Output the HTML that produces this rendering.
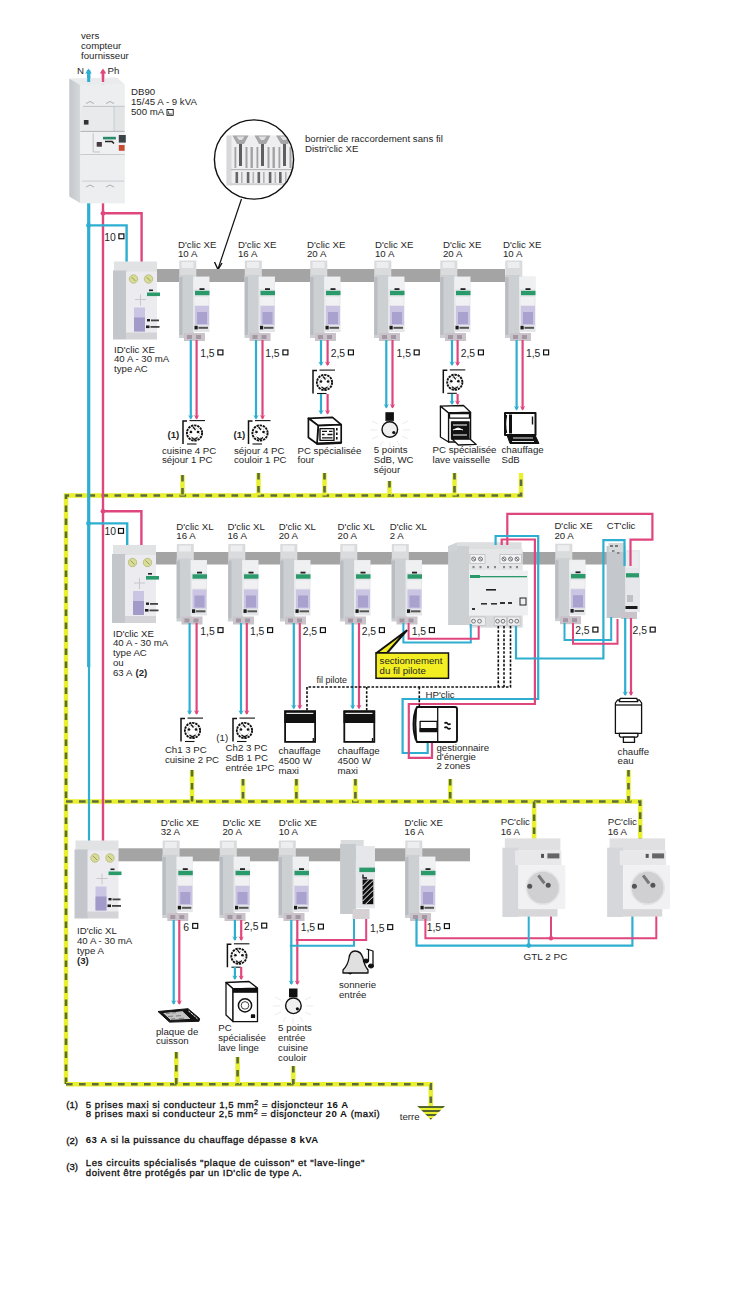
<!DOCTYPE html>
<html><head><meta charset="utf-8"><title>Schema</title>
<style>html,body{margin:0;padding:0;background:#fff;overflow:hidden}svg{display:block}text{font-family:"Liberation Sans",sans-serif}</style>
</head><body>
<svg width="738" height="1289" viewBox="0 0 738 1289">
<rect width="738" height="1289" fill="#ffffff"/>
<path d="M66,1084 L66,495.5 L521,495.5 L521,473" fill="none" stroke="#e8f030" stroke-width="4.5" stroke-linejoin="miter"/>
<path d="M66,1084 L66,495.5 L521,495.5 L521,473" fill="none" stroke="#5c6d3c" stroke-width="2.61" stroke-dasharray="6.6 6.4" stroke-linejoin="miter"/>
<path d="M182.5,475 L182.5,495.5" fill="none" stroke="#e8f030" stroke-width="4.5" stroke-linejoin="miter"/>
<path d="M182.5,475 L182.5,495.5" fill="none" stroke="#5c6d3c" stroke-width="2.61" stroke-dasharray="6.6 6.4" stroke-linejoin="miter"/>
<path d="M258.5,473 L258.5,495.5" fill="none" stroke="#e8f030" stroke-width="4.5" stroke-linejoin="miter"/>
<path d="M258.5,473 L258.5,495.5" fill="none" stroke="#5c6d3c" stroke-width="2.61" stroke-dasharray="6.6 6.4" stroke-linejoin="miter"/>
<path d="M324.5,473 L324.5,495.5" fill="none" stroke="#e8f030" stroke-width="4.5" stroke-linejoin="miter"/>
<path d="M324.5,473 L324.5,495.5" fill="none" stroke="#5c6d3c" stroke-width="2.61" stroke-dasharray="6.6 6.4" stroke-linejoin="miter"/>
<path d="M389.5,481 L389.5,495.5" fill="none" stroke="#e8f030" stroke-width="4.5" stroke-linejoin="miter"/>
<path d="M389.5,481 L389.5,495.5" fill="none" stroke="#5c6d3c" stroke-width="2.61" stroke-dasharray="6.6 6.4" stroke-linejoin="miter"/>
<path d="M454.5,473 L454.5,495.5" fill="none" stroke="#e8f030" stroke-width="4.5" stroke-linejoin="miter"/>
<path d="M454.5,473 L454.5,495.5" fill="none" stroke="#5c6d3c" stroke-width="2.61" stroke-dasharray="6.6 6.4" stroke-linejoin="miter"/>
<path d="M66,801.5 L640.2,801.5 L640.2,845" fill="none" stroke="#e8f030" stroke-width="4.5" stroke-linejoin="miter"/>
<path d="M66,801.5 L640.2,801.5 L640.2,845" fill="none" stroke="#5c6d3c" stroke-width="2.61" stroke-dasharray="6.6 6.4" stroke-linejoin="miter"/>
<path d="M192,770 L192,801.5" fill="none" stroke="#e8f030" stroke-width="4.5" stroke-linejoin="miter"/>
<path d="M192,770 L192,801.5" fill="none" stroke="#5c6d3c" stroke-width="2.61" stroke-dasharray="6.6 6.4" stroke-linejoin="miter"/>
<path d="M243,779 L243,801.5" fill="none" stroke="#e8f030" stroke-width="4.5" stroke-linejoin="miter"/>
<path d="M243,779 L243,801.5" fill="none" stroke="#5c6d3c" stroke-width="2.61" stroke-dasharray="6.6 6.4" stroke-linejoin="miter"/>
<path d="M296.4,779 L296.4,801.5" fill="none" stroke="#e8f030" stroke-width="4.5" stroke-linejoin="miter"/>
<path d="M296.4,779 L296.4,801.5" fill="none" stroke="#5c6d3c" stroke-width="2.61" stroke-dasharray="6.6 6.4" stroke-linejoin="miter"/>
<path d="M355.4,779 L355.4,801.5" fill="none" stroke="#e8f030" stroke-width="4.5" stroke-linejoin="miter"/>
<path d="M355.4,779 L355.4,801.5" fill="none" stroke="#5c6d3c" stroke-width="2.61" stroke-dasharray="6.6 6.4" stroke-linejoin="miter"/>
<path d="M450.2,779 L450.2,801.5" fill="none" stroke="#e8f030" stroke-width="4.5" stroke-linejoin="miter"/>
<path d="M450.2,779 L450.2,801.5" fill="none" stroke="#5c6d3c" stroke-width="2.61" stroke-dasharray="6.6 6.4" stroke-linejoin="miter"/>
<path d="M628.5,770 L628.5,801.5" fill="none" stroke="#e8f030" stroke-width="4.5" stroke-linejoin="miter"/>
<path d="M628.5,770 L628.5,801.5" fill="none" stroke="#5c6d3c" stroke-width="2.61" stroke-dasharray="6.6 6.4" stroke-linejoin="miter"/>
<path d="M534.1,801.5 L534.1,845" fill="none" stroke="#e8f030" stroke-width="4.5" stroke-linejoin="miter"/>
<path d="M534.1,801.5 L534.1,845" fill="none" stroke="#5c6d3c" stroke-width="2.61" stroke-dasharray="6.6 6.4" stroke-linejoin="miter"/>
<path d="M66,1084.2 L430.8,1084.2 L430.8,1106" fill="none" stroke="#e8f030" stroke-width="4.5" stroke-linejoin="miter"/>
<path d="M66,1084.2 L430.8,1084.2 L430.8,1106" fill="none" stroke="#5c6d3c" stroke-width="2.61" stroke-dasharray="6.6 6.4" stroke-linejoin="miter"/>
<path d="M176.3,1052 L176.3,1084.2" fill="none" stroke="#e8f030" stroke-width="4.5" stroke-linejoin="miter"/>
<path d="M176.3,1052 L176.3,1084.2" fill="none" stroke="#5c6d3c" stroke-width="2.61" stroke-dasharray="6.6 6.4" stroke-linejoin="miter"/>
<path d="M237.6,1057 L237.6,1084.2" fill="none" stroke="#e8f030" stroke-width="4.5" stroke-linejoin="miter"/>
<path d="M237.6,1057 L237.6,1084.2" fill="none" stroke="#5c6d3c" stroke-width="2.61" stroke-dasharray="6.6 6.4" stroke-linejoin="miter"/>
<path d="M293.3,1066 L293.3,1084.2" fill="none" stroke="#e8f030" stroke-width="4.5" stroke-linejoin="miter"/>
<path d="M293.3,1066 L293.3,1084.2" fill="none" stroke="#5c6d3c" stroke-width="2.61" stroke-dasharray="6.6 6.4" stroke-linejoin="miter"/>
<text transform="translate(81,38.5) scale(1.04,1)" font-size="9.3" fill="#262626">vers</text>
<text transform="translate(81,48.6) scale(1.04,1)" font-size="9.3" fill="#262626">compteur</text>
<text transform="translate(81,58.7) scale(1.04,1)" font-size="9.3" fill="#262626">fournisseur</text>
<text transform="translate(77,73.5) scale(1.04,1)" font-size="9.3" fill="#262626">N</text>
<text transform="translate(107.5,73.5) scale(1.04,1)" font-size="9.3" fill="#262626">Ph</text>
<text transform="translate(131,94.5) scale(1.04,1)" font-size="9.3" fill="#262626">DB90</text>
<text transform="translate(131,104.5) scale(1.04,1)" font-size="9.3" fill="#262626">15/45 A - 9 kVA</text>
<text transform="translate(131,114.5) scale(1.04,1)" font-size="9.3" fill="#262626">500 mA</text>
<rect x="167" y="109.5" width="6.2" height="5.8" fill="none" stroke="#111" stroke-width="0.9"/><path d="M168.4,114 h3.5 M168.6,111.3 v2.6" stroke="#111" stroke-width="0.7"/>
<text transform="translate(305,141.5) scale(1.04,1)" font-size="9.3" fill="#262626">bornier de raccordement sans fil</text>
<text transform="translate(305,151.5) scale(1.04,1)" font-size="9.3" fill="#262626">Distri'clic XE</text>
<path d="M88.7,70 L88.7,667" fill="none" stroke="#2eaed0" stroke-width="3.2" stroke-linejoin="miter"/>
<path d="M89,666 L89,843" fill="none" stroke="#2eaed0" stroke-width="2.2" stroke-linejoin="miter"/>
<path d="M103,70 L103,843" fill="none" stroke="#e0467e" stroke-width="2.4" stroke-linejoin="miter"/>
<path d="M85.3,73.5 L88.5,68.5 L91.7,73.5 Z" fill="#2eaed0"/><path d="M99.8,73.5 L103,68.5 L106.2,73.5 Z" fill="#e0467e"/>
<g>
<defs><linearGradient id="dbside" x1="0" x2="1" y1="0" y2="0"><stop offset="0" stop-color="#c3c7cb"/><stop offset="1" stop-color="#d6d9dc"/></linearGradient></defs>
<path d="M69.3,78.6 L117,77.5 L124.6,84.4 L80.4,85 Z" fill="#e9ebed"/>
<path d="M69.3,78.6 L80.4,85 L80.4,203.2 L69.3,196.5 Z" fill="url(#dbside)"/>
<rect x="80.4" y="84.6" width="44.2" height="118.6" fill="#e8eaec"/>
<rect x="80.4" y="84.6" width="44.2" height="21.5" fill="#eceef0"/>
<path d="M83,106.4 H114.2 V131 M114.2,106.4 H124.6" fill="none" stroke="#b4b7ba" stroke-width="0.8"/>
<rect x="114.6" y="106.8" width="10" height="24" fill="#e2e4e6"/>
<rect x="83.9" y="120" width="4.6" height="4.6" fill="#2f3438"/>
<rect x="80.4" y="131.4" width="44.2" height="23.5" fill="#eef0f2"/>
<path d="M80.4,131.4 H124.6 M80.4,154.9 H124.6" stroke="#a9acaf" stroke-width="0.9"/>
<path d="M93.2,133 V152 H100" fill="none" stroke="#b0b3b6" stroke-width="0.7"/>
<rect x="103" y="136.8" width="12.9" height="2.6" fill="#2a8a6a"/>
<path d="M105,141.5 H112 L114,143.5" fill="none" stroke="#222" stroke-width="1.6"/>
<rect x="118.8" y="135" width="7" height="7.6" fill="#3a4448"/>
<rect x="118.8" y="145" width="5.8" height="5.8" fill="#c84a30"/>
<rect x="96.7" y="142" width="5.2" height="4.7" fill="#4a3a46"/>
<rect x="80.4" y="155" width="44.2" height="48.2" fill="#eceef0"/>
<path d="M82,181.1 H124" stroke="#c2c5c8" stroke-width="0.8"/>
<path d="M86,103.5 l4,-2 l4,2 M106,103.5 l4,-2 l4,2 M86,187 l4,-2 l4,2 M106,187 l4,-2 l4,2" fill="none" stroke="#9a9ea2" stroke-width="0.8"/>
</g>
<path d="M88.7,72 L88.7,82" fill="none" stroke="#2eaed0" stroke-width="3" stroke-linejoin="miter"/>
<path d="M103,72 L103,82" fill="none" stroke="#e0467e" stroke-width="2.4" stroke-linejoin="miter"/>
<g>
<clipPath id="clipc"><circle cx="254" cy="159.5" r="39"/></clipPath>
<circle cx="254" cy="159.5" r="39.6" fill="#ffffff"/>
<g clip-path="url(#clipc)">
<rect x="226.5" y="135.5" width="70" height="50" fill="#eeeef0"/>
<rect x="226.5" y="135.5" width="5" height="50" fill="#d8d8da"/>
<path d="M232.5,135.5 H248.5 L244,144 H237 Z M254.5,135.5 H270.5 L266,144 H259 Z M276,135.5 H292 L288,144 H281 Z" fill="#a6a6a8"/>
<path d="M236.5,136.5 H244.5 L242,140 H239 Z M258.5,136.5 H266.5 L264,140 H261 Z M280,136.5 H288 L286,140 H283 Z" fill="#e0e0e2"/>
<g fill="#5e5e60"><rect x="239" y="144" width="3" height="22"/><rect x="261" y="144" width="3" height="22"/><rect x="283" y="144" width="3" height="22"/></g>
<g fill="#a2a2a4"><rect x="234.5" y="147" width="1.8" height="21"/><rect x="245.5" y="147" width="2" height="21"/><rect x="250.5" y="147" width="2.4" height="21"/><rect x="256.5" y="147" width="1.8" height="21"/><rect x="267.5" y="147" width="2" height="21"/><rect x="272.5" y="147" width="2.4" height="21"/><rect x="278.5" y="147" width="1.8" height="21"/><rect x="289.5" y="147" width="2" height="21"/></g>
<rect x="231" y="169" width="66" height="1.2" fill="#b8b8ba"/>
<g fill="#66666a"><rect x="235.5" y="172" width="2.6" height="11"/><rect x="246.8" y="172" width="2.6" height="11"/><rect x="257.5" y="172" width="2.6" height="11"/><rect x="268.8" y="172" width="2.6" height="11"/><rect x="279" y="172" width="2.6" height="11"/><rect x="290" y="172" width="2.6" height="11"/></g>
<g fill="#b4b4b6"><rect x="241" y="172" width="1.6" height="11"/><rect x="252.5" y="172" width="1.6" height="11"/><rect x="263" y="172" width="1.6" height="11"/><rect x="274.5" y="172" width="1.6" height="11"/><rect x="285" y="172" width="1.6" height="11"/></g>
<rect x="231" y="183.5" width="66" height="1.2" fill="#c4c4c6"/>
</g>
<circle cx="254" cy="159.5" r="39.6" fill="none" stroke="#111" stroke-width="1.4"/>
</g>
<path d="M241.5,199 L218,269" stroke="#111" stroke-width="1.2" fill="none"/>
<path d="M214.5,262 L218,269.5 L222,263" stroke="#111" stroke-width="1.4" fill="none"/>
<rect x="157" y="269" width="348" height="13" fill="#a4a4a4"/>
<circle cx="103" cy="213.3" r="2.4" fill="#e0467e"/>
<path d="M103,213.3 L141.6,213.3 L141.6,266" fill="none" stroke="#e0467e" stroke-width="2.4" stroke-linejoin="miter"/>
<circle cx="88.5" cy="225.4" r="2.4" fill="#2eaed0"/>
<path d="M88.5,225.4 L126.6,225.4 L126.6,266" fill="none" stroke="#2eaed0" stroke-width="2.4" stroke-linejoin="miter"/>
<text transform="translate(104.2,240.7) scale(1.0,1)" font-size="10.4" fill="#262626">10</text>
<rect x="118.89999999999999" y="233.9" width="5" height="4.8" fill="none" stroke="#111" stroke-width="1.2"/>
<g transform="translate(113,261.5)">
 <rect x="1" y="0" width="43" height="11" fill="#e0e2e4"/>
 <rect x="0" y="9" width="13.5" height="69" fill="#c3c7cb"/>
 <rect x="13" y="10" width="31" height="62" fill="#ececf0"/>
 <circle cx="20.5" cy="17.5" r="4.2" fill="#d8dc96" stroke="#b4b878" stroke-width="0.8"/>
 <circle cx="35.5" cy="17.5" r="4.2" fill="#d8dc96" stroke="#b4b878" stroke-width="0.8"/>
 <path d="M18.5,15.5 l4,4 M33.5,15.5 l4,4" stroke="#9a9e60" stroke-width="1"/>
 <rect x="34" y="31" width="13" height="3.6" fill="#2a9a6a"/>
 <rect x="36" y="28" width="4" height="1.6" fill="#222"/>
 <rect x="21" y="46" width="11" height="24" fill="#cac5e2"/>
 <rect x="21" y="56" width="11" height="14" fill="#a29ac8"/>
 <rect x="34" y="57.5" width="3" height="2.4" fill="#1a1a1a"/><rect x="38" y="58" width="8" height="1.8" fill="#444"/>
 <rect x="33" y="64" width="3.5" height="2.6" fill="#1a1a1a"/><rect x="37.5" y="64.5" width="9" height="1.8" fill="#444"/>
 <path d="M22,38 H33 M27.5,33 V44" stroke="#c8c8cc" stroke-width="1"/>
 <rect x="13" y="71" width="31" height="7" fill="#d4d4d8"/>
</g>
<text transform="translate(114,352.5) scale(1.04,1)" font-size="9.3" fill="#262626">ID'clic XE</text>
<text transform="translate(114,362.3) scale(1.04,1)" font-size="9.3" fill="#262626">40 A - 30 mA</text>
<text transform="translate(114,372.1) scale(1.04,1)" font-size="9.3" fill="#262626">type AC</text>
<text transform="translate(178,248.0) scale(1.04,1)" font-size="9.3" fill="#262626">D'clic XE</text>
<text transform="translate(178,257.4) scale(1.04,1)" font-size="9.3" fill="#262626">10 A</text>
<text transform="translate(238,248.0) scale(1.04,1)" font-size="9.3" fill="#262626">D'clic XE</text>
<text transform="translate(238,257.4) scale(1.04,1)" font-size="9.3" fill="#262626">16 A</text>
<text transform="translate(307,248.0) scale(1.04,1)" font-size="9.3" fill="#262626">D'clic XE</text>
<text transform="translate(307,257.4) scale(1.04,1)" font-size="9.3" fill="#262626">20 A</text>
<text transform="translate(375,248.0) scale(1.04,1)" font-size="9.3" fill="#262626">D'clic XE</text>
<text transform="translate(375,257.4) scale(1.04,1)" font-size="9.3" fill="#262626">10 A</text>
<text transform="translate(443,248.0) scale(1.04,1)" font-size="9.3" fill="#262626">D'clic XE</text>
<text transform="translate(443,257.4) scale(1.04,1)" font-size="9.3" fill="#262626">20 A</text>
<text transform="translate(503,248.0) scale(1.04,1)" font-size="9.3" fill="#262626">D'clic XE</text>
<text transform="translate(503,257.4) scale(1.04,1)" font-size="9.3" fill="#262626">10 A</text>
<g transform="translate(179,260)">
 <rect x="0.3" y="0.5" width="17" height="17" fill="#d9dbdd"/>
 <rect x="2.5" y="2" width="12" height="6" fill="#eceef0"/>
 <rect x="0" y="15" width="15" height="63" fill="#cdd0d3"/>
 <rect x="0.3" y="17" width="3.2" height="58" fill="#b9bdc1"/>
 <rect x="14" y="16.5" width="16.5" height="55.5" fill="#e5e6e9"/>
 <rect x="14.5" y="17" width="15.5" height="12" fill="#eff0f2"/>
 <rect x="16" y="30.8" width="14.5" height="4.4" fill="#2a9a6a"/>
 <rect x="20.5" y="28.2" width="5" height="1.8" fill="#222"/>
 <rect x="15.5" y="37" width="14" height="8" fill="#f1f1f3"/>
 <rect x="16" y="46" width="14" height="19" fill="#cbc5e3"/>
 <rect x="18" y="52" width="10" height="12" fill="#a9a1ce"/>
 <rect x="15.5" y="65.8" width="3.2" height="3.6" fill="#1a1a1a"/>
 <rect x="19.5" y="66.8" width="9.5" height="2" fill="#555"/>
 <rect x="5" y="73" width="21" height="8" fill="#cac3c9"/>
 <rect x="8" y="75" width="5" height="4" fill="#a397a4"/>
 <rect x="17" y="75" width="5" height="4" fill="#a397a4"/>
</g>
<g transform="translate(244.5,260)">
 <rect x="0.3" y="0.5" width="17" height="17" fill="#d9dbdd"/>
 <rect x="2.5" y="2" width="12" height="6" fill="#eceef0"/>
 <rect x="0" y="15" width="15" height="63" fill="#cdd0d3"/>
 <rect x="0.3" y="17" width="3.2" height="58" fill="#b9bdc1"/>
 <rect x="14" y="16.5" width="16.5" height="55.5" fill="#e5e6e9"/>
 <rect x="14.5" y="17" width="15.5" height="12" fill="#eff0f2"/>
 <rect x="16" y="30.8" width="14.5" height="4.4" fill="#2a9a6a"/>
 <rect x="20.5" y="28.2" width="5" height="1.8" fill="#222"/>
 <rect x="15.5" y="37" width="14" height="8" fill="#f1f1f3"/>
 <rect x="16" y="46" width="14" height="19" fill="#cbc5e3"/>
 <rect x="18" y="52" width="10" height="12" fill="#a9a1ce"/>
 <rect x="15.5" y="65.8" width="3.2" height="3.6" fill="#1a1a1a"/>
 <rect x="19.5" y="66.8" width="9.5" height="2" fill="#555"/>
 <rect x="5" y="73" width="21" height="8" fill="#cac3c9"/>
 <rect x="8" y="75" width="5" height="4" fill="#a397a4"/>
 <rect x="17" y="75" width="5" height="4" fill="#a397a4"/>
</g>
<g transform="translate(310,260)">
 <rect x="0.3" y="0.5" width="17" height="17" fill="#d9dbdd"/>
 <rect x="2.5" y="2" width="12" height="6" fill="#eceef0"/>
 <rect x="0" y="15" width="15" height="63" fill="#cdd0d3"/>
 <rect x="0.3" y="17" width="3.2" height="58" fill="#b9bdc1"/>
 <rect x="14" y="16.5" width="16.5" height="55.5" fill="#e5e6e9"/>
 <rect x="14.5" y="17" width="15.5" height="12" fill="#eff0f2"/>
 <rect x="16" y="30.8" width="14.5" height="4.4" fill="#2a9a6a"/>
 <rect x="20.5" y="28.2" width="5" height="1.8" fill="#222"/>
 <rect x="15.5" y="37" width="14" height="8" fill="#f1f1f3"/>
 <rect x="16" y="46" width="14" height="19" fill="#cbc5e3"/>
 <rect x="18" y="52" width="10" height="12" fill="#a9a1ce"/>
 <rect x="15.5" y="65.8" width="3.2" height="3.6" fill="#1a1a1a"/>
 <rect x="19.5" y="66.8" width="9.5" height="2" fill="#555"/>
 <rect x="5" y="73" width="21" height="8" fill="#cac3c9"/>
 <rect x="8" y="75" width="5" height="4" fill="#a397a4"/>
 <rect x="17" y="75" width="5" height="4" fill="#a397a4"/>
</g>
<g transform="translate(374,260)">
 <rect x="0.3" y="0.5" width="17" height="17" fill="#d9dbdd"/>
 <rect x="2.5" y="2" width="12" height="6" fill="#eceef0"/>
 <rect x="0" y="15" width="15" height="63" fill="#cdd0d3"/>
 <rect x="0.3" y="17" width="3.2" height="58" fill="#b9bdc1"/>
 <rect x="14" y="16.5" width="16.5" height="55.5" fill="#e5e6e9"/>
 <rect x="14.5" y="17" width="15.5" height="12" fill="#eff0f2"/>
 <rect x="16" y="30.8" width="14.5" height="4.4" fill="#2a9a6a"/>
 <rect x="20.5" y="28.2" width="5" height="1.8" fill="#222"/>
 <rect x="15.5" y="37" width="14" height="8" fill="#f1f1f3"/>
 <rect x="16" y="46" width="14" height="19" fill="#cbc5e3"/>
 <rect x="18" y="52" width="10" height="12" fill="#a9a1ce"/>
 <rect x="15.5" y="65.8" width="3.2" height="3.6" fill="#1a1a1a"/>
 <rect x="19.5" y="66.8" width="9.5" height="2" fill="#555"/>
 <rect x="5" y="73" width="21" height="8" fill="#cac3c9"/>
 <rect x="8" y="75" width="5" height="4" fill="#a397a4"/>
 <rect x="17" y="75" width="5" height="4" fill="#a397a4"/>
</g>
<g transform="translate(440,260)">
 <rect x="0.3" y="0.5" width="17" height="17" fill="#d9dbdd"/>
 <rect x="2.5" y="2" width="12" height="6" fill="#eceef0"/>
 <rect x="0" y="15" width="15" height="63" fill="#cdd0d3"/>
 <rect x="0.3" y="17" width="3.2" height="58" fill="#b9bdc1"/>
 <rect x="14" y="16.5" width="16.5" height="55.5" fill="#e5e6e9"/>
 <rect x="14.5" y="17" width="15.5" height="12" fill="#eff0f2"/>
 <rect x="16" y="30.8" width="14.5" height="4.4" fill="#2a9a6a"/>
 <rect x="20.5" y="28.2" width="5" height="1.8" fill="#222"/>
 <rect x="15.5" y="37" width="14" height="8" fill="#f1f1f3"/>
 <rect x="16" y="46" width="14" height="19" fill="#cbc5e3"/>
 <rect x="18" y="52" width="10" height="12" fill="#a9a1ce"/>
 <rect x="15.5" y="65.8" width="3.2" height="3.6" fill="#1a1a1a"/>
 <rect x="19.5" y="66.8" width="9.5" height="2" fill="#555"/>
 <rect x="5" y="73" width="21" height="8" fill="#cac3c9"/>
 <rect x="8" y="75" width="5" height="4" fill="#a397a4"/>
 <rect x="17" y="75" width="5" height="4" fill="#a397a4"/>
</g>
<g transform="translate(505,260)">
 <rect x="0.3" y="0.5" width="17" height="17" fill="#d9dbdd"/>
 <rect x="2.5" y="2" width="12" height="6" fill="#eceef0"/>
 <rect x="0" y="15" width="15" height="63" fill="#cdd0d3"/>
 <rect x="0.3" y="17" width="3.2" height="58" fill="#b9bdc1"/>
 <rect x="14" y="16.5" width="16.5" height="55.5" fill="#e5e6e9"/>
 <rect x="14.5" y="17" width="15.5" height="12" fill="#eff0f2"/>
 <rect x="16" y="30.8" width="14.5" height="4.4" fill="#2a9a6a"/>
 <rect x="20.5" y="28.2" width="5" height="1.8" fill="#222"/>
 <rect x="15.5" y="37" width="14" height="8" fill="#f1f1f3"/>
 <rect x="16" y="46" width="14" height="19" fill="#cbc5e3"/>
 <rect x="18" y="52" width="10" height="12" fill="#a9a1ce"/>
 <rect x="15.5" y="65.8" width="3.2" height="3.6" fill="#1a1a1a"/>
 <rect x="19.5" y="66.8" width="9.5" height="2" fill="#555"/>
 <rect x="5" y="73" width="21" height="8" fill="#cac3c9"/>
 <rect x="8" y="75" width="5" height="4" fill="#a397a4"/>
 <rect x="17" y="75" width="5" height="4" fill="#a397a4"/>
</g>
<text transform="translate(200.2,356.8) scale(1.0,1)" font-size="10.4" fill="#262626">1,5</text>
<rect x="217.9" y="350.00000000000006" width="5" height="4.8" fill="none" stroke="#111" stroke-width="1.2"/>
<text transform="translate(265.2,356.8) scale(1.0,1)" font-size="10.4" fill="#262626">1,5</text>
<rect x="282.90000000000003" y="350.00000000000006" width="5" height="4.8" fill="none" stroke="#111" stroke-width="1.2"/>
<text transform="translate(330.7,356.8) scale(1.0,1)" font-size="10.4" fill="#262626">2,5</text>
<rect x="348.40000000000003" y="350.00000000000006" width="5" height="4.8" fill="none" stroke="#111" stroke-width="1.2"/>
<text transform="translate(396.5,356.8) scale(1.0,1)" font-size="10.4" fill="#262626">1,5</text>
<rect x="414.20000000000005" y="350.00000000000006" width="5" height="4.8" fill="none" stroke="#111" stroke-width="1.2"/>
<text transform="translate(460.7,356.8) scale(1.0,1)" font-size="10.4" fill="#262626">2,5</text>
<rect x="478.40000000000003" y="350.00000000000006" width="5" height="4.8" fill="none" stroke="#111" stroke-width="1.2"/>
<text transform="translate(525.9000000000001,356.8) scale(1.0,1)" font-size="10.4" fill="#262626">1,5</text>
<rect x="543.6" y="350.00000000000006" width="5" height="4.8" fill="none" stroke="#111" stroke-width="1.2"/>
<path d="M190.8,340 L190.8,418.5" fill="none" stroke="#2eaed0" stroke-width="2.2" stroke-linejoin="miter"/>
<path d="M196.6,340 L196.6,418.5" fill="none" stroke="#e0467e" stroke-width="2.2" stroke-linejoin="miter"/>
<path d="M188.10000000000002,414.9 L190.8,419.5 L193.5,414.9 L190.8,416.5 Z" fill="#2eaed0"/>
<path d="M193.9,414.9 L196.6,419.5 L199.29999999999998,414.9 L196.6,416.5 Z" fill="#e0467e"/>
<g transform="translate(182,420)">
 <path d="M1,24 V1 H5" fill="none" stroke="#111" stroke-width="1.5"/>
 <path d="M7.5,0.6 H23" fill="none" stroke="#111" stroke-width="1.1"/>
 <path d="M5,24 H14.5" fill="none" stroke="#111" stroke-width="1.1"/>
 <circle cx="12.5" cy="13" r="7.6" fill="#fff" stroke="#111" stroke-width="1.9" stroke-dasharray="2.4 0.8"/>
 <circle cx="12.5" cy="13" r="5" fill="none" stroke="#666" stroke-width="0.6" stroke-dasharray="1 1.2"/>
 <circle cx="9" cy="12" r="1.3" fill="#111"/><circle cx="16" cy="12" r="1.3" fill="#111"/>
 <path d="M9.5,17.5 L12.5,19.5 L15.5,17.5" fill="none" stroke="#111" stroke-width="1.3"/>
 <path d="M11,7 L13.5,10" fill="none" stroke="#111" stroke-width="1.2"/>
</g>
<text transform="translate(167.5,437.5) scale(1.04,1)" font-size="9.3" font-weight="bold" fill="#262626">(1)</text>
<text transform="translate(162,454.0) scale(1.04,1)" font-size="9.3" fill="#262626">cuisine 4 PC</text>
<text transform="translate(162,463.3) scale(1.04,1)" font-size="9.3" fill="#262626">séjour 1 PC</text>
<path d="M256,340 L256,418.5" fill="none" stroke="#2eaed0" stroke-width="2.2" stroke-linejoin="miter"/>
<path d="M262.5,340 L262.5,418.5" fill="none" stroke="#e0467e" stroke-width="2.2" stroke-linejoin="miter"/>
<path d="M253.3,414.9 L256,419.5 L258.7,414.9 L256,416.5 Z" fill="#2eaed0"/>
<path d="M259.8,414.9 L262.5,419.5 L265.2,414.9 L262.5,416.5 Z" fill="#e0467e"/>
<g transform="translate(247.5,420)">
 <path d="M1,24 V1 H5" fill="none" stroke="#111" stroke-width="1.5"/>
 <path d="M7.5,0.6 H23" fill="none" stroke="#111" stroke-width="1.1"/>
 <path d="M5,24 H14.5" fill="none" stroke="#111" stroke-width="1.1"/>
 <circle cx="12.5" cy="13" r="7.6" fill="#fff" stroke="#111" stroke-width="1.9" stroke-dasharray="2.4 0.8"/>
 <circle cx="12.5" cy="13" r="5" fill="none" stroke="#666" stroke-width="0.6" stroke-dasharray="1 1.2"/>
 <circle cx="9" cy="12" r="1.3" fill="#111"/><circle cx="16" cy="12" r="1.3" fill="#111"/>
 <path d="M9.5,17.5 L12.5,19.5 L15.5,17.5" fill="none" stroke="#111" stroke-width="1.3"/>
 <path d="M11,7 L13.5,10" fill="none" stroke="#111" stroke-width="1.2"/>
</g>
<text transform="translate(233.5,437.5) scale(1.04,1)" font-size="9.3" font-weight="bold" fill="#262626">(1)</text>
<text transform="translate(234,454.0) scale(1.04,1)" font-size="9.3" fill="#262626">séjour 4 PC</text>
<text transform="translate(234,463.3) scale(1.04,1)" font-size="9.3" fill="#262626">couloir 1 PC</text>
<path d="M321,340 L321,365" fill="none" stroke="#2eaed0" stroke-width="2.2" stroke-linejoin="miter"/>
<path d="M327.6,340 L327.6,365" fill="none" stroke="#e0467e" stroke-width="2.2" stroke-linejoin="miter"/>
<path d="M318.3,361.4 L321,366 L323.7,361.4 L321,363 Z" fill="#2eaed0"/>
<path d="M324.90000000000003,361.4 L327.6,366 L330.3,361.4 L327.6,363 Z" fill="#e0467e"/>
<g transform="translate(312,369.5)">
 <path d="M1,24 V1 H5" fill="none" stroke="#111" stroke-width="1.5"/>
 <path d="M7.5,0.6 H23" fill="none" stroke="#111" stroke-width="1.1"/>
 <path d="M5,24 H14.5" fill="none" stroke="#111" stroke-width="1.1"/>
 <circle cx="12.5" cy="13" r="7.6" fill="#fff" stroke="#111" stroke-width="1.9" stroke-dasharray="2.4 0.8"/>
 <circle cx="12.5" cy="13" r="5" fill="none" stroke="#666" stroke-width="0.6" stroke-dasharray="1 1.2"/>
 <circle cx="9" cy="12" r="1.3" fill="#111"/><circle cx="16" cy="12" r="1.3" fill="#111"/>
 <path d="M9.5,17.5 L12.5,19.5 L15.5,17.5" fill="none" stroke="#111" stroke-width="1.3"/>
 <path d="M11,7 L13.5,10" fill="none" stroke="#111" stroke-width="1.2"/>
</g>
<path d="M321,394 L321,413.5" fill="none" stroke="#2eaed0" stroke-width="2.2" stroke-linejoin="miter"/>
<path d="M327.6,394 L327.6,413.5" fill="none" stroke="#e0467e" stroke-width="2.2" stroke-linejoin="miter"/>
<path d="M318.3,409.9 L321,414.5 L323.7,409.9 L321,411.5 Z" fill="#2eaed0"/>
<path d="M324.90000000000003,409.9 L327.6,414.5 L330.3,409.9 L327.6,411.5 Z" fill="#e0467e"/>
<g fill="#fff" stroke="#111" stroke-width="1.7" stroke-linejoin="round">
<path d="M308.4,418.3 L332.5,417.3 L341.2,424.6 L318.2,425.6 Z"/>
<path d="M318.2,425.6 L341.2,424.6 L341.2,443 L317,443.8 Z"/>
<path d="M308.4,418.3 L318.2,425.6 L317,443.8 L308.4,437.5 Z"/>
<rect x="320" y="428.6" width="14" height="11.8" fill="#fff" stroke-width="1.4"/>
<path d="M322,431.3 h5 M329,431.3 h3.5 M322,434.5 h2.5 M327.5,434.5 h5 M322,437.8 h10.5" stroke-width="1.3"/>
<path d="M336.8,428 v2.5 M336.8,432.5 v2.5 M336.8,437 v2.5" stroke-width="1.6"/>
<path d="M317,443.6 L341.2,442.8" stroke-width="2.4"/>
</g>
<text transform="translate(297.5,453.5) scale(1.04,1)" font-size="9.3" fill="#262626">PC spécialisée</text>
<text transform="translate(297.5,462.8) scale(1.04,1)" font-size="9.3" fill="#262626">four</text>
<path d="M386.3,340 L386.3,407.5" fill="none" stroke="#2eaed0" stroke-width="2.2" stroke-linejoin="miter"/>
<path d="M392.5,340 L392.5,407.5" fill="none" stroke="#e0467e" stroke-width="2.2" stroke-linejoin="miter"/>
<path d="M383.6,403.9 L386.3,408.5 L389.0,403.9 L386.3,405.5 Z" fill="#2eaed0"/>
<path d="M389.8,403.9 L392.5,408.5 L395.2,403.9 L392.5,405.5 Z" fill="#e0467e"/>
<g>
<g stroke="#dedede" stroke-width="0.6">
<path d="M378,424 l-6,-3 M377,430 l-7,0 M378,436 l-6,3 M383,441 l-3,5 M390,442 v6 M397,441 l3,5 M402,436 l6,3 M403,430 l7,0 M402,424 l6,-3"/>
</g>
<rect x="385.4" y="412.2" width="8.5" height="8.8" fill="#111"/>
<rect x="386" y="420.8" width="7.3" height="1.3" fill="#bbb"/>
<circle cx="389.8" cy="429.5" r="7.8" fill="#f0f0f0" stroke="#111" stroke-width="1.4"/>
<circle cx="393.8" cy="432.5" r="1.6" fill="#111"/>
</g>
<text transform="translate(373.8,453.4) scale(1.04,1)" font-size="9.3" fill="#262626">5 points</text>
<text transform="translate(373.8,463.4) scale(1.04,1)" font-size="9.3" fill="#262626">SdB, WC</text>
<text transform="translate(373.8,473.4) scale(1.04,1)" font-size="9.3" fill="#262626">séjour</text>
<path d="M452,340 L452,365" fill="none" stroke="#2eaed0" stroke-width="2.2" stroke-linejoin="miter"/>
<path d="M457.6,340 L457.6,365" fill="none" stroke="#e0467e" stroke-width="2.2" stroke-linejoin="miter"/>
<path d="M449.3,361.4 L452,366 L454.7,361.4 L452,363 Z" fill="#2eaed0"/>
<path d="M454.90000000000003,361.4 L457.6,366 L460.3,361.4 L457.6,363 Z" fill="#e0467e"/>
<g transform="translate(442.3,369.3)">
 <path d="M1,24 V1 H5" fill="none" stroke="#111" stroke-width="1.5"/>
 <path d="M7.5,0.6 H23" fill="none" stroke="#111" stroke-width="1.1"/>
 <path d="M5,24 H14.5" fill="none" stroke="#111" stroke-width="1.1"/>
 <circle cx="12.5" cy="13" r="7.6" fill="#fff" stroke="#111" stroke-width="1.9" stroke-dasharray="2.4 0.8"/>
 <circle cx="12.5" cy="13" r="5" fill="none" stroke="#666" stroke-width="0.6" stroke-dasharray="1 1.2"/>
 <circle cx="9" cy="12" r="1.3" fill="#111"/><circle cx="16" cy="12" r="1.3" fill="#111"/>
 <path d="M9.5,17.5 L12.5,19.5 L15.5,17.5" fill="none" stroke="#111" stroke-width="1.3"/>
 <path d="M11,7 L13.5,10" fill="none" stroke="#111" stroke-width="1.2"/>
</g>
<path d="M452,394 L452,404" fill="none" stroke="#2eaed0" stroke-width="2.2" stroke-linejoin="miter"/>
<path d="M457.6,394 L457.6,404" fill="none" stroke="#e0467e" stroke-width="2.2" stroke-linejoin="miter"/>
<path d="M449.3,400.4 L452,405 L454.7,400.4 L452,402 Z" fill="#2eaed0"/>
<path d="M454.90000000000003,400.4 L457.6,405 L460.3,400.4 L457.6,402 Z" fill="#e0467e"/>
<g fill="#fff" stroke="#111" stroke-width="1.3" stroke-linejoin="round">
<path d="M440.4,406.2 L463.5,405.5 L470.6,412.2 L448.6,412.9 Z"/>
<path d="M440.4,406.2 L448.6,412.9 L448.6,442 L440.4,437 Z"/>
<rect x="448.6" y="412.6" width="22" height="29.4"/>
<rect x="449.5" y="413.6" width="20" height="4.5" fill="#fff"/>
<rect x="451.5" y="421.8" width="17.5" height="17.2" fill="#111"/>
<path d="M453,425 h14 M453,430 l5,-2 l5,2 M453,435 h14" stroke="#fff" stroke-width="1"/>
<path d="M452.4,439.2 L470.2,439.2 L476.2,444.4 L458.3,445 Z"/>
</g>
<text transform="translate(432.6,453.3) scale(1.04,1)" font-size="9.3" fill="#262626">PC spécialisée</text>
<text transform="translate(432.6,463.1) scale(1.04,1)" font-size="9.3" fill="#262626">lave vaisselle</text>
<path d="M516.6,340 L516.6,409.5" fill="none" stroke="#2eaed0" stroke-width="2.2" stroke-linejoin="miter"/>
<path d="M522.6,340 L522.6,409.5" fill="none" stroke="#e0467e" stroke-width="2.2" stroke-linejoin="miter"/>
<path d="M513.9,405.9 L516.6,410.5 L519.3000000000001,405.9 L516.6,407.5 Z" fill="#2eaed0"/>
<path d="M519.9,405.9 L522.6,410.5 L525.3000000000001,405.9 L522.6,407.5 Z" fill="#e0467e"/>
<g stroke="#111" stroke-linejoin="round">
<rect x="505" y="413" width="30.5" height="22" fill="#fff" stroke-width="2"/>
<path d="M506.5,415 Q504.5,424 506.5,433" fill="none" stroke-width="1.5"/>
<rect x="509" y="414.5" width="3" height="19" fill="#111" stroke="none"/>
<path d="M532.5,416.5 v8" stroke-width="1.4"/>
<path d="M507,435 H535 L539,443.5 H510 Z" fill="#111" stroke-width="1"/>
<path d="M513,438 h20 M512,441.5 h22" stroke="#fff" stroke-width="0.9"/>
</g>
<text transform="translate(501.5,453.3) scale(1.04,1)" font-size="9.3" fill="#262626">chauffage</text>
<text transform="translate(501.5,463.1) scale(1.04,1)" font-size="9.3" fill="#262626">SdB</text>
<rect x="156" y="552" width="478" height="12.5" fill="#a4a4a4"/>
<circle cx="103" cy="511.3" r="2.4" fill="#e0467e"/>
<path d="M103,511.3 L141.4,511.3 L141.4,550" fill="none" stroke="#e0467e" stroke-width="2.4" stroke-linejoin="miter"/>
<circle cx="88.5" cy="523.4" r="2.4" fill="#2eaed0"/>
<path d="M88.5,523.4 L127.2,523.4 L127.2,550" fill="none" stroke="#2eaed0" stroke-width="2.4" stroke-linejoin="miter"/>
<text transform="translate(104.4,534.9) scale(1.0,1)" font-size="10.4" fill="#262626">10</text>
<rect x="118.5" y="528.5" width="5" height="4.8" fill="none" stroke="#111" stroke-width="1.2"/>
<g transform="translate(112,545)">
 <rect x="1" y="0" width="43" height="11" fill="#e0e2e4"/>
 <rect x="0" y="9" width="13.5" height="69" fill="#c3c7cb"/>
 <rect x="13" y="10" width="31" height="62" fill="#ececf0"/>
 <circle cx="20.5" cy="17.5" r="4.2" fill="#d8dc96" stroke="#b4b878" stroke-width="0.8"/>
 <circle cx="35.5" cy="17.5" r="4.2" fill="#d8dc96" stroke="#b4b878" stroke-width="0.8"/>
 <path d="M18.5,15.5 l4,4 M33.5,15.5 l4,4" stroke="#9a9e60" stroke-width="1"/>
 <rect x="34" y="31" width="13" height="3.6" fill="#2a9a6a"/>
 <rect x="36" y="28" width="4" height="1.6" fill="#222"/>
 <rect x="21" y="46" width="11" height="24" fill="#cac5e2"/>
 <rect x="21" y="56" width="11" height="14" fill="#a29ac8"/>
 <rect x="34" y="57.5" width="3" height="2.4" fill="#1a1a1a"/><rect x="38" y="58" width="8" height="1.8" fill="#444"/>
 <rect x="33" y="64" width="3.5" height="2.6" fill="#1a1a1a"/><rect x="37.5" y="64.5" width="9" height="1.8" fill="#444"/>
 <path d="M22,38 H33 M27.5,33 V44" stroke="#c8c8cc" stroke-width="1"/>
 <rect x="13" y="71" width="31" height="7" fill="#d4d4d8"/>
</g>
<text transform="translate(113,636.5) scale(1.04,1)" font-size="9.3" fill="#262626">ID'clic XE</text>
<text transform="translate(113,646.3) scale(1.04,1)" font-size="9.3" fill="#262626">40 A - 30 mA</text>
<text transform="translate(113,656.1) scale(1.04,1)" font-size="9.3" fill="#262626">type AC</text>
<text transform="translate(113,665.9) scale(1.04,1)" font-size="9.3" fill="#262626">ou</text>
<text transform="translate(113,675.7) scale(1.04,1)" font-size="9.3" fill="#262626">63 A</text>
<text transform="translate(135.5,675.7) scale(1.04,1)" font-size="9.3" font-weight="bold" fill="#262626">(2)</text>
<text transform="translate(176.3,529.5) scale(1.04,1)" font-size="9.3" fill="#262626">D'clic XL</text>
<text transform="translate(176.3,539.1) scale(1.04,1)" font-size="9.3" fill="#262626">16 A</text>
<text transform="translate(227.5,529.5) scale(1.04,1)" font-size="9.3" fill="#262626">D'clic XL</text>
<text transform="translate(227.5,539.1) scale(1.04,1)" font-size="9.3" fill="#262626">16 A</text>
<text transform="translate(278.7,529.5) scale(1.04,1)" font-size="9.3" fill="#262626">D'clic XL</text>
<text transform="translate(278.7,539.1) scale(1.04,1)" font-size="9.3" fill="#262626">20 A</text>
<text transform="translate(337.6,529.5) scale(1.04,1)" font-size="9.3" fill="#262626">D'clic XL</text>
<text transform="translate(337.6,539.1) scale(1.04,1)" font-size="9.3" fill="#262626">20 A</text>
<text transform="translate(389.7,529.5) scale(1.04,1)" font-size="9.3" fill="#262626">D'clic XL</text>
<text transform="translate(389.7,539.1) scale(1.04,1)" font-size="9.3" fill="#262626">2 A</text>
<g transform="translate(176.5,543.5)">
 <rect x="0.3" y="0.5" width="17" height="17" fill="#d9dbdd"/>
 <rect x="2.5" y="2" width="12" height="6" fill="#eceef0"/>
 <rect x="0" y="15" width="15" height="63" fill="#cdd0d3"/>
 <rect x="0.3" y="17" width="3.2" height="58" fill="#b9bdc1"/>
 <rect x="14" y="16.5" width="16.5" height="55.5" fill="#e5e6e9"/>
 <rect x="14.5" y="17" width="15.5" height="12" fill="#eff0f2"/>
 <rect x="16" y="30.8" width="14.5" height="4.4" fill="#2a9a6a"/>
 <rect x="20.5" y="28.2" width="5" height="1.8" fill="#222"/>
 <rect x="15.5" y="37" width="14" height="8" fill="#f1f1f3"/>
 <rect x="16" y="46" width="14" height="19" fill="#cbc5e3"/>
 <rect x="18" y="52" width="10" height="12" fill="#a9a1ce"/>
 <rect x="15.5" y="65.8" width="3.2" height="3.6" fill="#1a1a1a"/>
 <rect x="19.5" y="66.8" width="9.5" height="2" fill="#555"/>
 <rect x="5" y="73" width="21" height="8" fill="#cac3c9"/>
 <rect x="8" y="75" width="5" height="4" fill="#a397a4"/>
 <rect x="17" y="75" width="5" height="4" fill="#a397a4"/>
</g>
<g transform="translate(228,543.5)">
 <rect x="0.3" y="0.5" width="17" height="17" fill="#d9dbdd"/>
 <rect x="2.5" y="2" width="12" height="6" fill="#eceef0"/>
 <rect x="0" y="15" width="15" height="63" fill="#cdd0d3"/>
 <rect x="0.3" y="17" width="3.2" height="58" fill="#b9bdc1"/>
 <rect x="14" y="16.5" width="16.5" height="55.5" fill="#e5e6e9"/>
 <rect x="14.5" y="17" width="15.5" height="12" fill="#eff0f2"/>
 <rect x="16" y="30.8" width="14.5" height="4.4" fill="#2a9a6a"/>
 <rect x="20.5" y="28.2" width="5" height="1.8" fill="#222"/>
 <rect x="15.5" y="37" width="14" height="8" fill="#f1f1f3"/>
 <rect x="16" y="46" width="14" height="19" fill="#cbc5e3"/>
 <rect x="18" y="52" width="10" height="12" fill="#a9a1ce"/>
 <rect x="15.5" y="65.8" width="3.2" height="3.6" fill="#1a1a1a"/>
 <rect x="19.5" y="66.8" width="9.5" height="2" fill="#555"/>
 <rect x="5" y="73" width="21" height="8" fill="#cac3c9"/>
 <rect x="8" y="75" width="5" height="4" fill="#a397a4"/>
 <rect x="17" y="75" width="5" height="4" fill="#a397a4"/>
</g>
<g transform="translate(280,543.5)">
 <rect x="0.3" y="0.5" width="17" height="17" fill="#d9dbdd"/>
 <rect x="2.5" y="2" width="12" height="6" fill="#eceef0"/>
 <rect x="0" y="15" width="15" height="63" fill="#cdd0d3"/>
 <rect x="0.3" y="17" width="3.2" height="58" fill="#b9bdc1"/>
 <rect x="14" y="16.5" width="16.5" height="55.5" fill="#e5e6e9"/>
 <rect x="14.5" y="17" width="15.5" height="12" fill="#eff0f2"/>
 <rect x="16" y="30.8" width="14.5" height="4.4" fill="#2a9a6a"/>
 <rect x="20.5" y="28.2" width="5" height="1.8" fill="#222"/>
 <rect x="15.5" y="37" width="14" height="8" fill="#f1f1f3"/>
 <rect x="16" y="46" width="14" height="19" fill="#cbc5e3"/>
 <rect x="18" y="52" width="10" height="12" fill="#a9a1ce"/>
 <rect x="15.5" y="65.8" width="3.2" height="3.6" fill="#1a1a1a"/>
 <rect x="19.5" y="66.8" width="9.5" height="2" fill="#555"/>
 <rect x="5" y="73" width="21" height="8" fill="#cac3c9"/>
 <rect x="8" y="75" width="5" height="4" fill="#a397a4"/>
 <rect x="17" y="75" width="5" height="4" fill="#a397a4"/>
</g>
<g transform="translate(340,543.5)">
 <rect x="0.3" y="0.5" width="17" height="17" fill="#d9dbdd"/>
 <rect x="2.5" y="2" width="12" height="6" fill="#eceef0"/>
 <rect x="0" y="15" width="15" height="63" fill="#cdd0d3"/>
 <rect x="0.3" y="17" width="3.2" height="58" fill="#b9bdc1"/>
 <rect x="14" y="16.5" width="16.5" height="55.5" fill="#e5e6e9"/>
 <rect x="14.5" y="17" width="15.5" height="12" fill="#eff0f2"/>
 <rect x="16" y="30.8" width="14.5" height="4.4" fill="#2a9a6a"/>
 <rect x="20.5" y="28.2" width="5" height="1.8" fill="#222"/>
 <rect x="15.5" y="37" width="14" height="8" fill="#f1f1f3"/>
 <rect x="16" y="46" width="14" height="19" fill="#cbc5e3"/>
 <rect x="18" y="52" width="10" height="12" fill="#a9a1ce"/>
 <rect x="15.5" y="65.8" width="3.2" height="3.6" fill="#1a1a1a"/>
 <rect x="19.5" y="66.8" width="9.5" height="2" fill="#555"/>
 <rect x="5" y="73" width="21" height="8" fill="#cac3c9"/>
 <rect x="8" y="75" width="5" height="4" fill="#a397a4"/>
 <rect x="17" y="75" width="5" height="4" fill="#a397a4"/>
</g>
<g transform="translate(391.5,543.5)">
 <rect x="0.3" y="0.5" width="17" height="17" fill="#d9dbdd"/>
 <rect x="2.5" y="2" width="12" height="6" fill="#eceef0"/>
 <rect x="0" y="15" width="15" height="63" fill="#cdd0d3"/>
 <rect x="0.3" y="17" width="3.2" height="58" fill="#b9bdc1"/>
 <rect x="14" y="16.5" width="16.5" height="55.5" fill="#e5e6e9"/>
 <rect x="14.5" y="17" width="15.5" height="12" fill="#eff0f2"/>
 <rect x="16" y="30.8" width="14.5" height="4.4" fill="#2a9a6a"/>
 <rect x="20.5" y="28.2" width="5" height="1.8" fill="#222"/>
 <rect x="15.5" y="37" width="14" height="8" fill="#f1f1f3"/>
 <rect x="16" y="46" width="14" height="19" fill="#cbc5e3"/>
 <rect x="18" y="52" width="10" height="12" fill="#a9a1ce"/>
 <rect x="15.5" y="65.8" width="3.2" height="3.6" fill="#1a1a1a"/>
 <rect x="19.5" y="66.8" width="9.5" height="2" fill="#555"/>
 <rect x="5" y="73" width="21" height="8" fill="#cac3c9"/>
 <rect x="8" y="75" width="5" height="4" fill="#a397a4"/>
 <rect x="17" y="75" width="5" height="4" fill="#a397a4"/>
</g>
<text transform="translate(200.29999999999998,634.5) scale(1.0,1)" font-size="10.4" fill="#262626">1,5</text>
<rect x="218.0" y="627.7" width="5" height="4.8" fill="none" stroke="#111" stroke-width="1.2"/>
<text transform="translate(249.89999999999998,634.5) scale(1.0,1)" font-size="10.4" fill="#262626">1,5</text>
<rect x="267.6" y="627.7" width="5" height="4.8" fill="none" stroke="#111" stroke-width="1.2"/>
<text transform="translate(302.7,634.5) scale(1.0,1)" font-size="10.4" fill="#262626">2,5</text>
<rect x="320.40000000000003" y="627.7" width="5" height="4.8" fill="none" stroke="#111" stroke-width="1.2"/>
<text transform="translate(361.7,634.5) scale(1.0,1)" font-size="10.4" fill="#262626">2,5</text>
<rect x="379.40000000000003" y="627.7" width="5" height="4.8" fill="none" stroke="#111" stroke-width="1.2"/>
<text transform="translate(411.7,634.5) scale(1.0,1)" font-size="10.4" fill="#262626">1,5</text>
<rect x="429.40000000000003" y="627.7" width="5" height="4.8" fill="none" stroke="#111" stroke-width="1.2"/>
<g>
<rect x="457.6" y="542.2" width="64" height="8" fill="#dcdee0"/>
<rect x="448.1" y="546" width="21" height="79" fill="#cdd0d3"/>
<path d="M448.1,546 L457.6,542.2 L457.6,550 L448.1,552 Z" fill="#d0d3d6"/>
<rect x="469.1" y="549" width="53.6" height="21.6" fill="#e4e6e8"/>
<rect x="470" y="554.5" width="15" height="9" fill="#f2f2f4" stroke="#b0b0b4" stroke-width="0.6"/>
<rect x="500" y="554.5" width="21.5" height="9" fill="#f2f2f4" stroke="#b0b0b4" stroke-width="0.6"/>
<g fill="none" stroke="#6a6a70" stroke-width="0.9"><circle cx="473.7" cy="559" r="2"/><circle cx="480.5" cy="559" r="2"/><circle cx="504" cy="559" r="2"/><circle cx="510.5" cy="559" r="2"/><circle cx="517" cy="559" r="2"/></g>
<g stroke="#555" stroke-width="0.8"><path d="M472.3,557.6 l2.8,2.8 M479.1,557.6 l2.8,2.8 M502.6,557.6 l2.8,2.8 M509.1,557.6 l2.8,2.8 M515.6,557.6 l2.8,2.8"/></g>
<g fill="#888"><rect x="472.5" y="566" width="2" height="2.2"/><rect x="479.5" y="566" width="2" height="2.2"/><rect x="487" y="566" width="2" height="2.2"/><rect x="494" y="566" width="2" height="2.2"/><rect x="503" y="566" width="2" height="2.2"/><rect x="509.5" y="566" width="2" height="2.2"/><rect x="516" y="566" width="2" height="2.2"/></g>
<rect x="469.1" y="570.6" width="58.9" height="44.8" fill="#eeeff1"/>
<rect x="470" y="576" width="57" height="1.3" fill="#2a9a6a"/>
<rect x="470" y="575" width="10" height="3" fill="#2a9a6a"/>
<rect x="486" y="589" width="10" height="1.6" fill="#222"/>
<rect x="481" y="603" width="6" height="1.6" fill="#333"/><rect x="491" y="603" width="6" height="1.6" fill="#333"/><rect x="500" y="602" width="5" height="2" fill="#333"/><rect x="508" y="602" width="4" height="2" fill="#333"/>
<rect x="520" y="598" width="6" height="7" fill="none" stroke="#222" stroke-width="1"/>
<rect x="472" y="608" width="3" height="2" fill="#333"/>
<rect x="469.1" y="615.4" width="53.6" height="12.2" fill="#d8dadc"/>
<rect x="470" y="617" width="15.5" height="8.5" fill="#eeeef0" stroke="#aaa" stroke-width="0.5"/>
<rect x="494.2" y="617" width="12.2" height="8.5" fill="#eeeef0" stroke="#aaa" stroke-width="0.5"/>
<rect x="507.8" y="617" width="12.2" height="8.5" fill="#eeeef0" stroke="#aaa" stroke-width="0.5"/>
<g fill="none" stroke="#6a6a70" stroke-width="0.9"><circle cx="473.5" cy="621.2" r="1.9"/><circle cx="479.5" cy="621.2" r="1.9"/><circle cx="497.5" cy="621.2" r="1.9"/><circle cx="503" cy="621.2" r="1.9"/><circle cx="511" cy="621.2" r="1.9"/><circle cx="516.8" cy="621.2" r="1.9"/></g>
</g>
<text transform="translate(554.4,529) scale(1.04,1)" font-size="9.3" fill="#262626">D'clic XE</text>
<text transform="translate(554.4,539) scale(1.04,1)" font-size="9.3" fill="#262626">20 A</text>
<g transform="translate(555,543.2)">
 <rect x="0.3" y="0.5" width="17" height="17" fill="#d9dbdd"/>
 <rect x="2.5" y="2" width="12" height="6" fill="#eceef0"/>
 <rect x="0" y="15" width="15" height="63" fill="#cdd0d3"/>
 <rect x="0.3" y="17" width="3.2" height="58" fill="#b9bdc1"/>
 <rect x="14" y="16.5" width="16.5" height="55.5" fill="#e5e6e9"/>
 <rect x="14.5" y="17" width="15.5" height="12" fill="#eff0f2"/>
 <rect x="16" y="30.8" width="14.5" height="4.4" fill="#2a9a6a"/>
 <rect x="20.5" y="28.2" width="5" height="1.8" fill="#222"/>
 <rect x="15.5" y="37" width="14" height="8" fill="#f1f1f3"/>
 <rect x="16" y="46" width="14" height="19" fill="#cbc5e3"/>
 <rect x="18" y="52" width="10" height="12" fill="#a9a1ce"/>
 <rect x="15.5" y="65.8" width="3.2" height="3.6" fill="#1a1a1a"/>
 <rect x="19.5" y="66.8" width="9.5" height="2" fill="#555"/>
 <rect x="5" y="73" width="21" height="8" fill="#cac3c9"/>
 <rect x="8" y="75" width="5" height="4" fill="#a397a4"/>
 <rect x="17" y="75" width="5" height="4" fill="#a397a4"/>
</g>
<text transform="translate(606.7,529) scale(1.04,1)" font-size="9.3" fill="#262626">CT'clic</text>
<g>
<rect x="606.6" y="546" width="19" height="72" fill="#c4c8cc"/>
<rect x="608.5" y="543" width="16" height="9" fill="#d6d8da"/>
<rect x="610" y="545" width="3" height="2" fill="#777"/><rect x="615" y="545" width="3" height="2" fill="#777"/>
<rect x="612" y="550" width="2.5" height="2" fill="#888"/><rect x="617" y="552" width="2.5" height="2" fill="#888"/>
<rect x="625.5" y="550" width="14.5" height="62" fill="#e6e7ea"/>
<rect x="626" y="552" width="12" height="16" fill="#ebecee"/>
<rect x="626" y="573.2" width="13" height="4.2" fill="#2a9a6a"/>
<rect x="627" y="595" width="6" height="7" fill="#c0c0c4"/>
<rect x="625.5" y="606" width="12" height="3" fill="#1a1a1a"/>
<rect x="621" y="612" width="16" height="7" fill="#cac3c9"/>
</g>
<text transform="translate(575.2,634) scale(1.0,1)" font-size="10.4" fill="#262626">2,5</text>
<rect x="592.9" y="627.2" width="5" height="4.8" fill="none" stroke="#111" stroke-width="1.2"/>
<text transform="translate(632.5,634) scale(1.0,1)" font-size="10.4" fill="#262626">2,5</text>
<rect x="650.1999999999999" y="627.2" width="5" height="4.8" fill="none" stroke="#111" stroke-width="1.2"/>
<path d="M189.6,623 L189.6,713.8" fill="none" stroke="#2eaed0" stroke-width="2.2" stroke-linejoin="miter"/>
<path d="M196.6,623 L196.6,713.8" fill="none" stroke="#e0467e" stroke-width="2.2" stroke-linejoin="miter"/>
<path d="M186.9,710.1999999999999 L189.6,714.8 L192.29999999999998,710.1999999999999 L189.6,711.8 Z" fill="#2eaed0"/>
<path d="M193.9,710.1999999999999 L196.6,714.8 L199.29999999999998,710.1999999999999 L196.6,711.8 Z" fill="#e0467e"/>
<g transform="translate(180,717.5)">
 <path d="M1,24 V1 H5" fill="none" stroke="#111" stroke-width="1.5"/>
 <path d="M7.5,0.6 H23" fill="none" stroke="#111" stroke-width="1.1"/>
 <path d="M5,24 H14.5" fill="none" stroke="#111" stroke-width="1.1"/>
 <circle cx="12.5" cy="13" r="7.6" fill="#fff" stroke="#111" stroke-width="1.9" stroke-dasharray="2.4 0.8"/>
 <circle cx="12.5" cy="13" r="5" fill="none" stroke="#666" stroke-width="0.6" stroke-dasharray="1 1.2"/>
 <circle cx="9" cy="12" r="1.3" fill="#111"/><circle cx="16" cy="12" r="1.3" fill="#111"/>
 <path d="M9.5,17.5 L12.5,19.5 L15.5,17.5" fill="none" stroke="#111" stroke-width="1.3"/>
 <path d="M11,7 L13.5,10" fill="none" stroke="#111" stroke-width="1.2"/>
</g>
<text transform="translate(164.9,753.3) scale(1.04,1)" font-size="9.3" fill="#262626">Ch1 3 PC</text>
<text transform="translate(164.9,763.0) scale(1.04,1)" font-size="9.3" fill="#262626">cuisine 2 PC</text>
<path d="M241,623 L241,713.8" fill="none" stroke="#2eaed0" stroke-width="2.2" stroke-linejoin="miter"/>
<path d="M246.8,623 L246.8,713.8" fill="none" stroke="#e0467e" stroke-width="2.2" stroke-linejoin="miter"/>
<path d="M238.3,710.1999999999999 L241,714.8 L243.7,710.1999999999999 L241,711.8 Z" fill="#2eaed0"/>
<path d="M244.10000000000002,710.1999999999999 L246.8,714.8 L249.5,710.1999999999999 L246.8,711.8 Z" fill="#e0467e"/>
<g transform="translate(232,717.5)">
 <path d="M1,24 V1 H5" fill="none" stroke="#111" stroke-width="1.5"/>
 <path d="M7.5,0.6 H23" fill="none" stroke="#111" stroke-width="1.1"/>
 <path d="M5,24 H14.5" fill="none" stroke="#111" stroke-width="1.1"/>
 <circle cx="12.5" cy="13" r="7.6" fill="#fff" stroke="#111" stroke-width="1.9" stroke-dasharray="2.4 0.8"/>
 <circle cx="12.5" cy="13" r="5" fill="none" stroke="#666" stroke-width="0.6" stroke-dasharray="1 1.2"/>
 <circle cx="9" cy="12" r="1.3" fill="#111"/><circle cx="16" cy="12" r="1.3" fill="#111"/>
 <path d="M9.5,17.5 L12.5,19.5 L15.5,17.5" fill="none" stroke="#111" stroke-width="1.3"/>
 <path d="M11,7 L13.5,10" fill="none" stroke="#111" stroke-width="1.2"/>
</g>
<text transform="translate(216.3,740.5) scale(1.04,1)" font-size="9.3" fill="#262626">(1)</text>
<text transform="translate(225.6,750.5) scale(1.04,1)" font-size="9.3" fill="#262626">Ch2 3 PC</text>
<text transform="translate(225.6,760.8) scale(1.04,1)" font-size="9.3" fill="#262626">SdB 1 PC</text>
<text transform="translate(225.6,771.1) scale(1.04,1)" font-size="9.3" fill="#262626">entrée 1PC</text>
<path d="M293.8,623 L293.8,708.3" fill="none" stroke="#2eaed0" stroke-width="2.2" stroke-linejoin="miter"/>
<path d="M299.8,623 L299.8,708.3" fill="none" stroke="#e0467e" stroke-width="2.2" stroke-linejoin="miter"/>
<path d="M291.1,704.6999999999999 L293.8,709.3 L296.5,704.6999999999999 L293.8,706.3 Z" fill="#2eaed0"/>
<path d="M297.1,704.6999999999999 L299.8,709.3 L302.5,704.6999999999999 L299.8,706.3 Z" fill="#e0467e"/>
<path d="M352.7,623 L352.7,708.3" fill="none" stroke="#2eaed0" stroke-width="2.2" stroke-linejoin="miter"/>
<path d="M359,623 L359,708.3" fill="none" stroke="#e0467e" stroke-width="2.2" stroke-linejoin="miter"/>
<path d="M350.0,704.6999999999999 L352.7,709.3 L355.4,704.6999999999999 L352.7,706.3 Z" fill="#2eaed0"/>
<path d="M356.3,704.6999999999999 L359,709.3 L361.7,704.6999999999999 L359,706.3 Z" fill="#e0467e"/>
<g><rect x="285.1" y="711.3" width="30" height="30.6" fill="#fff" stroke="#111" stroke-width="1.8"/>
<rect x="284.3" y="710.5" width="31.6" height="12.5" fill="#111"/>
<rect x="286.3" y="712.8" width="27" height="1.1" fill="#fff"/>
<path d="M313.3,738 v3" stroke="#111" stroke-width="1.3"/></g>
<g><rect x="344.3" y="711.3" width="30" height="30.6" fill="#fff" stroke="#111" stroke-width="1.8"/>
<rect x="343.5" y="710.5" width="31.6" height="12.5" fill="#111"/>
<rect x="345.5" y="712.8" width="27" height="1.1" fill="#fff"/>
<path d="M372.5,738 v3" stroke="#111" stroke-width="1.3"/></g>
<text transform="translate(278.5,754) scale(1.04,1)" font-size="9.3" fill="#262626">chauffage</text>
<text transform="translate(278.5,764) scale(1.04,1)" font-size="9.3" fill="#262626">4500 W</text>
<text transform="translate(278.5,774) scale(1.04,1)" font-size="9.3" fill="#262626">maxi</text>
<text transform="translate(337.5,754) scale(1.04,1)" font-size="9.3" fill="#262626">chauffage</text>
<text transform="translate(337.5,764) scale(1.04,1)" font-size="9.3" fill="#262626">4500 W</text>
<text transform="translate(337.5,774) scale(1.04,1)" font-size="9.3" fill="#262626">maxi</text>
<text transform="translate(316.6,682.5) scale(1.04,1)" font-size="8.6" fill="#262626">fil pilote</text>
<path d="M403.4,623 L403.4,642.6 L470.8,642.6 L470.8,624" fill="none" stroke="#2eaed0" stroke-width="2" stroke-linejoin="miter"/>
<path d="M408.6,623 L408.6,638.7 L478.7,638.7 L478.7,626" fill="none" stroke="#e0467e" stroke-width="2" stroke-linejoin="miter"/>
<path d="M507.3,545 L507.3,513.8 L652.4,513.8 L652.4,539.6 L630.5,539.6 L630.5,566" fill="none" stroke="#e0467e" stroke-width="2.2" stroke-linejoin="miter"/>
<path d="M495.6,545 L495.6,536 L538.2,536 L538.2,699 L402.6,699 L402.6,753 L427.7,753 L427.7,742" fill="none" stroke="#2eaed0" stroke-width="2.2" stroke-linejoin="miter"/>
<path d="M501.7,545 L501.7,539.5 L534.9,539.5 L534.9,704 L408.8,704 L408.8,757.8 L432,757.8 L432,742" fill="none" stroke="#e0467e" stroke-width="2.2" stroke-linejoin="miter"/>
<path d="M516,626 L516,658.5 L603.4,658.5 L603.4,540.1 L624.5,540.1 L624.5,566" fill="none" stroke="#2eaed0" stroke-width="2.2" stroke-linejoin="miter"/>
<path d="M564.5,623 L564.5,640 L611.2,640 L611.2,617" fill="none" stroke="#2eaed0" stroke-width="2" stroke-linejoin="miter"/>
<path d="M573,623 L573,643.8 L617.5,643.8 L617.5,619" fill="none" stroke="#e0467e" stroke-width="2" stroke-linejoin="miter"/>
<path d="M625.2,618 L625.2,695" fill="none" stroke="#2eaed0" stroke-width="2.2" stroke-linejoin="miter"/>
<path d="M631,618 L631,695" fill="none" stroke="#e0467e" stroke-width="2.2" stroke-linejoin="miter"/>
<path d="M622.5,691.4 L625.2,696 L627.9000000000001,691.4 L625.2,693 Z" fill="#2eaed0"/>
<path d="M628.3,691.4 L631,696 L633.7,691.4 L631,693 Z" fill="#e0467e"/>
<path d="M498.3,626 L498.3,687" fill="none" stroke="#111" stroke-width="1.6" stroke-dasharray="2.6 1.6"/>
<path d="M504,626 L504,687" fill="none" stroke="#111" stroke-width="1.6" stroke-dasharray="2.6 1.6"/>
<path d="M510.5,626 L510.5,687 L307,687 L307,710.5" fill="none" stroke="#111" stroke-width="1.6" stroke-dasharray="2.6 1.6"/>
<path d="M366.7,687 L366.7,710.5" fill="none" stroke="#111" stroke-width="1.6" stroke-dasharray="2.6 1.6"/>
<path d="M419.3,687 L419.3,708" fill="none" stroke="#111" stroke-width="1.6" stroke-dasharray="2.6 1.6"/>
<text transform="translate(425.5,697.5) scale(1.04,1)" font-size="9.3" fill="#262626">HP'clic</text>
<path d="M376.5,653 L406.7,630.5 L387,653 Z" fill="#f2ee22" stroke="#111" stroke-width="2" stroke-linejoin="round"/>
<rect x="376" y="653" width="72.5" height="25.3" fill="#f2ee22" stroke="#111" stroke-width="1.5"/>
<text transform="translate(379.6,663.6) scale(1.04,1)" font-size="9.3" fill="#262626">sectionnement</text>
<text transform="translate(379.6,674.2) scale(1.04,1)" font-size="9.3" fill="#262626">du fil pilote</text>
<g stroke="#111" stroke-linejoin="round">
<path d="M417,707 H455 Q457,707 457,709 V740 Q457,742 455,742 H417 Q413.5,735 413.5,724.5 Q413.5,714 417,707 Z" fill="#fff" stroke-width="1.9"/>
<path d="M416,709 Q414.5,724 416,740" fill="none" stroke-width="2.2"/>
<path d="M437.7,708 V741" stroke-width="1.3"/>
<rect x="420.1" y="721.3" width="17" height="10.4" fill="#fff" stroke-width="1.3"/>
<rect x="420.1" y="728.5" width="17" height="3" fill="#111"/>
<path d="M444.5,723.5 q1.5,-1.8 3,0 t3,0 M444.5,728 q1.5,-1.8 3,0 t3,0" fill="none" stroke-width="1.6"/>
</g>
<text transform="translate(436.5,751) scale(1.04,1)" font-size="9.3" fill="#262626">gestionnaire</text>
<text transform="translate(436.5,760) scale(1.04,1)" font-size="9.3" fill="#262626">d'énergie</text>
<text transform="translate(436.5,769) scale(1.04,1)" font-size="9.3" fill="#262626">2 zones</text>
<g fill="#fff" stroke="#111" stroke-width="1.3" stroke-linejoin="round">
<path d="M617.5,700 H639.5 L641.6,703 V733.3 H615.4 V703 Z"/>
<path d="M620.2,698.3 H636.7 L637.8,701.6 H619.2 Z"/>
<path d="M615.6,705 H641.4"/>
<path d="M619.4,733.3 H637.9 V736 L636.7,737.2 H620.6 L619.4,736 Z"/>
<rect x="623.4" y="737.2" width="11.1" height="5.2"/>
</g>
<text transform="translate(617.6,754.5) scale(1.04,1)" font-size="9.3" fill="#262626">chauffe</text>
<text transform="translate(617.6,764.3) scale(1.04,1)" font-size="9.3" fill="#262626">eau</text>
<rect x="117" y="848.3" width="353" height="13.0" fill="#a4a4a4"/>
<g transform="translate(74.5,840.5)">
 <rect x="1" y="0" width="43" height="11" fill="#e0e2e4"/>
 <rect x="0" y="9" width="13.5" height="69" fill="#c3c7cb"/>
 <rect x="13" y="10" width="31" height="62" fill="#ececf0"/>
 <circle cx="20.5" cy="17.5" r="4.2" fill="#d8dc96" stroke="#b4b878" stroke-width="0.8"/>
 <circle cx="35.5" cy="17.5" r="4.2" fill="#d8dc96" stroke="#b4b878" stroke-width="0.8"/>
 <path d="M18.5,15.5 l4,4 M33.5,15.5 l4,4" stroke="#9a9e60" stroke-width="1"/>
 <rect x="34" y="31" width="13" height="3.6" fill="#2a9a6a"/>
 <rect x="36" y="28" width="4" height="1.6" fill="#222"/>
 <rect x="21" y="46" width="11" height="24" fill="#cac5e2"/>
 <rect x="21" y="56" width="11" height="14" fill="#a29ac8"/>
 <rect x="34" y="57.5" width="3" height="2.4" fill="#1a1a1a"/><rect x="38" y="58" width="8" height="1.8" fill="#444"/>
 <rect x="33" y="64" width="3.5" height="2.6" fill="#1a1a1a"/><rect x="37.5" y="64.5" width="9" height="1.8" fill="#444"/>
 <path d="M22,38 H33 M27.5,33 V44" stroke="#c8c8cc" stroke-width="1"/>
 <rect x="13" y="71" width="31" height="7" fill="#d4d4d8"/>
</g>
<text transform="translate(77,933.5) scale(1.04,1)" font-size="9.3" fill="#262626">ID'clic XL</text>
<text transform="translate(77,943.6) scale(1.04,1)" font-size="9.3" fill="#262626">40 A - 30 mA</text>
<text transform="translate(77,953.7) scale(1.04,1)" font-size="9.3" fill="#262626">type A</text>
<text transform="translate(77,963.5) scale(1.04,1)" font-size="9.3" font-weight="bold" fill="#262626">(3)</text>
<g transform="translate(162.3,840)">
 <rect x="0.3" y="0.5" width="17" height="17" fill="#d9dbdd"/>
 <rect x="2.5" y="2" width="12" height="6" fill="#eceef0"/>
 <rect x="0" y="15" width="15" height="63" fill="#cdd0d3"/>
 <rect x="0.3" y="17" width="3.2" height="58" fill="#b9bdc1"/>
 <rect x="14" y="16.5" width="16.5" height="55.5" fill="#e5e6e9"/>
 <rect x="14.5" y="17" width="15.5" height="12" fill="#eff0f2"/>
 <rect x="16" y="30.8" width="14.5" height="4.4" fill="#2a9a6a"/>
 <rect x="20.5" y="28.2" width="5" height="1.8" fill="#222"/>
 <rect x="15.5" y="37" width="14" height="8" fill="#f1f1f3"/>
 <rect x="16" y="46" width="14" height="19" fill="#cbc5e3"/>
 <rect x="18" y="52" width="10" height="12" fill="#a9a1ce"/>
 <rect x="15.5" y="65.8" width="3.2" height="3.6" fill="#1a1a1a"/>
 <rect x="19.5" y="66.8" width="9.5" height="2" fill="#555"/>
 <rect x="5" y="73" width="21" height="8" fill="#cac3c9"/>
 <rect x="8" y="75" width="5" height="4" fill="#a397a4"/>
 <rect x="17" y="75" width="5" height="4" fill="#a397a4"/>
</g>
<g transform="translate(219.5,840)">
 <rect x="0.3" y="0.5" width="17" height="17" fill="#d9dbdd"/>
 <rect x="2.5" y="2" width="12" height="6" fill="#eceef0"/>
 <rect x="0" y="15" width="15" height="63" fill="#cdd0d3"/>
 <rect x="0.3" y="17" width="3.2" height="58" fill="#b9bdc1"/>
 <rect x="14" y="16.5" width="16.5" height="55.5" fill="#e5e6e9"/>
 <rect x="14.5" y="17" width="15.5" height="12" fill="#eff0f2"/>
 <rect x="16" y="30.8" width="14.5" height="4.4" fill="#2a9a6a"/>
 <rect x="20.5" y="28.2" width="5" height="1.8" fill="#222"/>
 <rect x="15.5" y="37" width="14" height="8" fill="#f1f1f3"/>
 <rect x="16" y="46" width="14" height="19" fill="#cbc5e3"/>
 <rect x="18" y="52" width="10" height="12" fill="#a9a1ce"/>
 <rect x="15.5" y="65.8" width="3.2" height="3.6" fill="#1a1a1a"/>
 <rect x="19.5" y="66.8" width="9.5" height="2" fill="#555"/>
 <rect x="5" y="73" width="21" height="8" fill="#cac3c9"/>
 <rect x="8" y="75" width="5" height="4" fill="#a397a4"/>
 <rect x="17" y="75" width="5" height="4" fill="#a397a4"/>
</g>
<g transform="translate(278.5,840)">
 <rect x="0.3" y="0.5" width="17" height="17" fill="#d9dbdd"/>
 <rect x="2.5" y="2" width="12" height="6" fill="#eceef0"/>
 <rect x="0" y="15" width="15" height="63" fill="#cdd0d3"/>
 <rect x="0.3" y="17" width="3.2" height="58" fill="#b9bdc1"/>
 <rect x="14" y="16.5" width="16.5" height="55.5" fill="#e5e6e9"/>
 <rect x="14.5" y="17" width="15.5" height="12" fill="#eff0f2"/>
 <rect x="16" y="30.8" width="14.5" height="4.4" fill="#2a9a6a"/>
 <rect x="20.5" y="28.2" width="5" height="1.8" fill="#222"/>
 <rect x="15.5" y="37" width="14" height="8" fill="#f1f1f3"/>
 <rect x="16" y="46" width="14" height="19" fill="#cbc5e3"/>
 <rect x="18" y="52" width="10" height="12" fill="#a9a1ce"/>
 <rect x="15.5" y="65.8" width="3.2" height="3.6" fill="#1a1a1a"/>
 <rect x="19.5" y="66.8" width="9.5" height="2" fill="#555"/>
 <rect x="5" y="73" width="21" height="8" fill="#cac3c9"/>
 <rect x="8" y="75" width="5" height="4" fill="#a397a4"/>
 <rect x="17" y="75" width="5" height="4" fill="#a397a4"/>
</g>
<g transform="translate(405,840)">
 <rect x="0.3" y="0.5" width="17" height="17" fill="#d9dbdd"/>
 <rect x="2.5" y="2" width="12" height="6" fill="#eceef0"/>
 <rect x="0" y="15" width="15" height="63" fill="#cdd0d3"/>
 <rect x="0.3" y="17" width="3.2" height="58" fill="#b9bdc1"/>
 <rect x="14" y="16.5" width="16.5" height="55.5" fill="#e5e6e9"/>
 <rect x="14.5" y="17" width="15.5" height="12" fill="#eff0f2"/>
 <rect x="16" y="30.8" width="14.5" height="4.4" fill="#2a9a6a"/>
 <rect x="20.5" y="28.2" width="5" height="1.8" fill="#222"/>
 <rect x="15.5" y="37" width="14" height="8" fill="#f1f1f3"/>
 <rect x="16" y="46" width="14" height="19" fill="#cbc5e3"/>
 <rect x="18" y="52" width="10" height="12" fill="#a9a1ce"/>
 <rect x="15.5" y="65.8" width="3.2" height="3.6" fill="#1a1a1a"/>
 <rect x="19.5" y="66.8" width="9.5" height="2" fill="#555"/>
 <rect x="5" y="73" width="21" height="8" fill="#cac3c9"/>
 <rect x="8" y="75" width="5" height="4" fill="#a397a4"/>
 <rect x="17" y="75" width="5" height="4" fill="#a397a4"/>
</g>
<text transform="translate(160.7,825.5) scale(1.04,1)" font-size="9.3" fill="#262626">D'clic XE</text>
<text transform="translate(160.7,835.3) scale(1.04,1)" font-size="9.3" fill="#262626">32 A</text>
<text transform="translate(222.5,825.5) scale(1.04,1)" font-size="9.3" fill="#262626">D'clic XE</text>
<text transform="translate(222.5,835.3) scale(1.04,1)" font-size="9.3" fill="#262626">20 A</text>
<text transform="translate(278.7,825.5) scale(1.04,1)" font-size="9.3" fill="#262626">D'clic XE</text>
<text transform="translate(278.7,835.3) scale(1.04,1)" font-size="9.3" fill="#262626">10 A</text>
<text transform="translate(404.6,825.5) scale(1.04,1)" font-size="9.3" fill="#262626">D'clic XE</text>
<text transform="translate(404.6,835.3) scale(1.04,1)" font-size="9.3" fill="#262626">16 A</text>
<text transform="translate(183.3,931) scale(1.0,1)" font-size="10.4" fill="#262626">6</text>
<rect x="192.7" y="923.5" width="5" height="4.8" fill="none" stroke="#111" stroke-width="1.2"/>
<text transform="translate(244.0,930) scale(1.0,1)" font-size="10.4" fill="#262626">2,5</text>
<rect x="261.70000000000005" y="923.2" width="5" height="4.8" fill="none" stroke="#111" stroke-width="1.2"/>
<text transform="translate(300.7,931) scale(1.0,1)" font-size="10.4" fill="#262626">1,5</text>
<rect x="318.40000000000003" y="924.2" width="5" height="4.8" fill="none" stroke="#111" stroke-width="1.2"/>
<text transform="translate(370.0,931.5) scale(1.0,1)" font-size="10.4" fill="#262626">1,5</text>
<rect x="387.70000000000005" y="924.7" width="5" height="4.8" fill="none" stroke="#111" stroke-width="1.2"/>
<text transform="translate(426.7,930.5) scale(1.0,1)" font-size="10.4" fill="#262626">1,5</text>
<rect x="444.40000000000003" y="923.7" width="5" height="4.8" fill="none" stroke="#111" stroke-width="1.2"/>
<g>
<rect x="340.7" y="840" width="23" height="8" fill="#dadcde"/>
<rect x="340.1" y="844" width="15.8" height="70" fill="#c6cacd"/>
<rect x="355.9" y="846" width="19.1" height="62.2" fill="#e6e7ea"/>
<rect x="359.3" y="867.6" width="15.7" height="4.5" fill="#2a9a6a"/>
<path d="M363,874.4 V878 H367" fill="none" stroke="#111" stroke-width="1.3"/>
<rect x="362.6" y="879.5" width="10.7" height="24.7" fill="#111"/>
<path d="M362.6,886 l6.5,-6.5 M362.6,891 l10.7,-10.7 M362.6,896 l10.7,-10.7 M362.6,901 l10.7,-10.7 M365.5,904.2 l7.8,-7.8" stroke="#fff" stroke-width="1"/>
<rect x="352.5" y="909" width="17" height="10" fill="#d4d0d4"/>
</g>
<path d="M173.7,920 L173.7,1003.8" fill="none" stroke="#2eaed0" stroke-width="2.2" stroke-linejoin="miter"/>
<path d="M179.3,920 L179.3,1003.8" fill="none" stroke="#e0467e" stroke-width="2.2" stroke-linejoin="miter"/>
<path d="M171.0,1000.1999999999999 L173.7,1004.8 L176.39999999999998,1000.1999999999999 L173.7,1001.8 Z" fill="#2eaed0"/>
<path d="M176.60000000000002,1000.1999999999999 L179.3,1004.8 L182.0,1000.1999999999999 L179.3,1001.8 Z" fill="#e0467e"/>
<g stroke="#111" stroke-linejoin="round">
<path d="M158,1011.5 L188,1008.7 L199.6,1018.5 L199,1021.3 L169.5,1022.1 Z" fill="#111"/>
<path d="M162,1012.6 L182.5,1010.7 L191.5,1019.4 L170.5,1020.4 Z" fill="#c4c4c4"/>
<path d="M166,1013.5 l4,-0.3 M172,1013 l4,-0.4 M168,1016.5 l5,-0.4 M176,1016 l5,-0.4 M171,1019 l4,-0.2 M179,1018.5 l5,-0.3" stroke="#777" stroke-width="0.9"/>
<path d="M188.5,1011 l2,1.5 M191,1013.2 l2,1.5 M193.5,1015.4 l2,1.5 M196,1017.6 l1.5,1.2" stroke="#fff" stroke-width="0.9"/>
</g>
<text transform="translate(155.9,1034.8) scale(1.04,1)" font-size="9.3" fill="#262626">plaque de</text>
<text transform="translate(155.9,1044.4) scale(1.04,1)" font-size="9.3" fill="#262626">cuisson</text>
<path d="M234.9,920 L234.9,939.9" fill="none" stroke="#2eaed0" stroke-width="2.2" stroke-linejoin="miter"/>
<path d="M241.2,920 L241.2,939.9" fill="none" stroke="#e0467e" stroke-width="2.2" stroke-linejoin="miter"/>
<path d="M232.20000000000002,936.3 L234.9,940.9 L237.6,936.3 L234.9,937.9 Z" fill="#2eaed0"/>
<path d="M238.5,936.3 L241.2,940.9 L243.89999999999998,936.3 L241.2,937.9 Z" fill="#e0467e"/>
<g transform="translate(226.4,943.2)">
 <path d="M1,24 V1 H5" fill="none" stroke="#111" stroke-width="1.5"/>
 <path d="M7.5,0.6 H23" fill="none" stroke="#111" stroke-width="1.1"/>
 <path d="M5,24 H14.5" fill="none" stroke="#111" stroke-width="1.1"/>
 <circle cx="12.5" cy="13" r="7.6" fill="#fff" stroke="#111" stroke-width="1.9" stroke-dasharray="2.4 0.8"/>
 <circle cx="12.5" cy="13" r="5" fill="none" stroke="#666" stroke-width="0.6" stroke-dasharray="1 1.2"/>
 <circle cx="9" cy="12" r="1.3" fill="#111"/><circle cx="16" cy="12" r="1.3" fill="#111"/>
 <path d="M9.5,17.5 L12.5,19.5 L15.5,17.5" fill="none" stroke="#111" stroke-width="1.3"/>
 <path d="M11,7 L13.5,10" fill="none" stroke="#111" stroke-width="1.2"/>
</g>
<path d="M234.9,967 L234.9,979" fill="none" stroke="#2eaed0" stroke-width="2.2" stroke-linejoin="miter"/>
<path d="M241.2,967 L241.2,979" fill="none" stroke="#e0467e" stroke-width="2.2" stroke-linejoin="miter"/>
<path d="M232.20000000000002,975.4 L234.9,980 L237.6,975.4 L234.9,977 Z" fill="#2eaed0"/>
<path d="M238.5,975.4 L241.2,980 L243.89999999999998,975.4 L241.2,977 Z" fill="#e0467e"/>
<g fill="#fff" stroke="#111" stroke-width="1.3" stroke-linejoin="round">
<path d="M226,982.5 L249,981.5 L257.5,988 L233,988.8 Z"/>
<path d="M226,982.5 L233,988.8 L233,1021.5 L226,1015 Z"/>
<rect x="233" y="988.6" width="24.5" height="33"/>
<rect x="233.5" y="989" width="23.5" height="3.2" fill="#111"/>
<circle cx="245" cy="1005.4" r="6.6" stroke-width="1.5"/>
<circle cx="245" cy="1005.4" r="3.8" stroke-width="0.8"/>
<rect x="251.5" y="1015" width="3" height="2.4" fill="#111"/>
</g>
<text transform="translate(218.2,1030.5) scale(1.04,1)" font-size="9.3" fill="#262626">PC</text>
<text transform="translate(218.2,1040.5) scale(1.04,1)" font-size="9.3" fill="#262626">spécialisée</text>
<text transform="translate(218.2,1050.5) scale(1.04,1)" font-size="9.3" fill="#262626">lave linge</text>
<path d="M291.3,920 L291.3,984" fill="none" stroke="#2eaed0" stroke-width="2.2" stroke-linejoin="miter"/>
<path d="M297.3,920 L297.3,984" fill="none" stroke="#e0467e" stroke-width="2.2" stroke-linejoin="miter"/>
<path d="M288.6,980.4 L291.3,985 L294.0,980.4 L291.3,982 Z" fill="#2eaed0"/>
<path d="M294.6,980.4 L297.3,985 L300.0,980.4 L297.3,982 Z" fill="#e0467e"/>
<g>
<g stroke="#dedede" stroke-width="0.6">
<path d="M281,1000 l-6,-3 M280,1006 l-7,0 M281,1012 l-6,3 M286,1017 l-3,5 M293,1018 v6 M300,1017 l3,5 M305,1012 l6,3 M306,1006 l7,0 M305,1000 l6,-3"/>
</g>
<rect x="289" y="988.5" width="8.5" height="8.8" fill="#111"/>
<rect x="289.6" y="997.1" width="7.3" height="1.3" fill="#bbb"/>
<circle cx="293.4" cy="1005.8" r="7.8" fill="#f0f0f0" stroke="#111" stroke-width="1.4"/>
<circle cx="297.4" cy="1008.8" r="1.6" fill="#111"/>
</g>
<text transform="translate(278.1,1030.5) scale(1.04,1)" font-size="9.3" fill="#262626">5 points</text>
<text transform="translate(278.1,1040.7) scale(1.04,1)" font-size="9.3" fill="#262626">entrée</text>
<text transform="translate(278.1,1050.9) scale(1.04,1)" font-size="9.3" fill="#262626">cuisine</text>
<text transform="translate(278.1,1061.1) scale(1.04,1)" font-size="9.3" fill="#262626">couloir</text>
<path d="M354,919 L354,945.7 L289.8,945.7" fill="none" stroke="#2eaed0" stroke-width="2" stroke-linejoin="miter"/>
<path d="M366.2,919 L366.2,940 L295.8,940" fill="none" stroke="#e0467e" stroke-width="2" stroke-linejoin="miter"/>
<g stroke="#111" stroke-linejoin="round">
<path d="M347.5,972 Q350,976 353,972 Z" fill="#111" stroke-width="1"/>
<path d="M355,951 Q350,951 349,958 Q348,965 343,970 L343,973 L368,973 L368,970 Q364,965 363,958 Q361,951 355,951 Z" fill="#e0e0e0" stroke-width="1.3"/>
<path d="M366.5,949 L373,951 L373,965" fill="none" stroke-width="1.3"/>
<ellipse cx="371" cy="966" rx="2.6" ry="2" fill="#111"/>
<ellipse cx="366" cy="961" rx="2.6" ry="2" fill="#111"/>
<path d="M368.5,961 V949" stroke-width="1.2"/>
</g>
<text transform="translate(339,988.0) scale(1.04,1)" font-size="9.3" fill="#262626">sonnerie</text>
<text transform="translate(339,997.5) scale(1.04,1)" font-size="9.3" fill="#262626">entrée</text>
<path d="M416.5,919 L416.5,945.6 L632.4,945.6 L632.4,914" fill="none" stroke="#2eaed0" stroke-width="2.2" stroke-linejoin="miter"/>
<path d="M425.4,919 L425.4,938.3 L656.3,938.3 L656.3,914" fill="none" stroke="#e0467e" stroke-width="2" stroke-linejoin="miter"/>
<path d="M528.7,912 L528.7,945.6" fill="none" stroke="#2eaed0" stroke-width="2" stroke-linejoin="miter"/>
<path d="M551,912 L551,938.3" fill="none" stroke="#e0467e" stroke-width="2" stroke-linejoin="miter"/>
<circle cx="528.7" cy="945.6" r="2.4" fill="#2eaed0"/>
<circle cx="551" cy="938.3" r="2.2" fill="#e0467e"/>
<text transform="translate(523.5,960.4) scale(1.02,1)" font-size="9.8" fill="#262626">GTL 2 PC</text>
<g transform="translate(502.4,838.4)">
<rect x="2.4" y="0" width="55.6" height="12.2" fill="#e0e0e2"/>
<rect x="0" y="9.3" width="16.1" height="69.3" fill="#d6d7da"/>
<rect x="12.6" y="12.2" width="46.4" height="14.6" fill="#e8e8ea"/>
<rect x="38.6" y="15.5" width="3" height="4" fill="#555"/>
<rect x="45" y="15" width="12" height="5" fill="#666"/>
<rect x="16.1" y="26.8" width="46.8" height="43.9" fill="#f1f1f3"/>
<circle cx="40.5" cy="49.3" r="17" fill="#d0d0d3"/>
<circle cx="40.5" cy="49.3" r="16.6" fill="none" stroke="#e6e6e8" stroke-width="1.5"/>
<circle cx="27.3" cy="47.8" r="2.5" fill="#555"/><circle cx="45.8" cy="46.8" r="2.5" fill="#555"/>
<path d="M36,37 L42,45" stroke="#777" stroke-width="3"/>
<rect x="15.1" y="70.7" width="40" height="7.5" fill="#d7d7da"/>
</g>
<g transform="translate(607.1,838.4)">
<rect x="2.4" y="0" width="55.6" height="12.2" fill="#e0e0e2"/>
<rect x="0" y="9.3" width="16.1" height="69.3" fill="#d6d7da"/>
<rect x="12.6" y="12.2" width="46.4" height="14.6" fill="#e8e8ea"/>
<rect x="38.6" y="15.5" width="3" height="4" fill="#555"/>
<rect x="45" y="15" width="12" height="5" fill="#666"/>
<rect x="16.1" y="26.8" width="46.8" height="43.9" fill="#f1f1f3"/>
<circle cx="40.5" cy="49.3" r="17" fill="#d0d0d3"/>
<circle cx="40.5" cy="49.3" r="16.6" fill="none" stroke="#e6e6e8" stroke-width="1.5"/>
<circle cx="27.3" cy="47.8" r="2.5" fill="#555"/><circle cx="45.8" cy="46.8" r="2.5" fill="#555"/>
<path d="M36,37 L42,45" stroke="#777" stroke-width="3"/>
<rect x="15.1" y="70.7" width="40" height="7.5" fill="#d7d7da"/>
</g>
<text transform="translate(500.7,824.5) scale(1.04,1)" font-size="9.3" fill="#262626">PC'clic</text>
<text transform="translate(500.7,834.5) scale(1.04,1)" font-size="9.3" fill="#262626">16 A</text>
<text transform="translate(607.7,824.5) scale(1.04,1)" font-size="9.3" fill="#262626">PC'clic</text>
<text transform="translate(607.7,834.5) scale(1.04,1)" font-size="9.3" fill="#262626">16 A</text>
<g>
<path d="M417.3,1106 L445,1106 L430.8,1119.8 Z" fill="#e8f030"/>
<path d="M417.3,1106 H445 L443,1108 H419.3 Z" fill="#53652f"/>
<path d="M421.3,1110 H441 L439,1112 H423.3 Z" fill="#53652f"/>
<path d="M425.3,1114 H437 L435,1116 H427.3 Z" fill="#53652f"/>
<path d="M429.3,1118 H432.3 L430.8,1119.8 Z" fill="#53652f"/>
</g>
<text transform="translate(399.8,1120.3) scale(1.04,1)" font-size="9.3" fill="#262626">terre</text>
<text x="66.2" y="1108.3" font-size="9.6" fill="#111" stroke="#111" stroke-width="0.32">(1)</text>
<text x="85.8" y="1108.3" font-size="9.6" fill="#111" stroke="#111" stroke-width="0.32" textLength="262.3">5 prises maxi si conducteur 1,5 mm<tspan font-size="7.2" dy="-3.4">2</tspan><tspan dy="3.4"> </tspan>= disjoncteur <tspan font-weight="bold" stroke="none">16 A</tspan></text>
<text x="85.8" y="1117.3" font-size="9.6" fill="#111" stroke="#111" stroke-width="0.32" textLength="294">8 prises maxi si conducteur 2,5 mm<tspan font-size="7.2" dy="-3.4">2</tspan><tspan dy="3.4"> </tspan>= disjoncteur <tspan font-weight="bold" stroke="none">20 A</tspan> (maxi)</text>
<text x="66.2" y="1143.5" font-size="9.6" fill="#111" stroke="#111" stroke-width="0.32">(2)</text>
<text x="85.8" y="1142.5" font-size="9.6" fill="#111" stroke="#111" stroke-width="0.32" textLength="232.5"><tspan font-weight="bold" stroke="none">63 A</tspan> si la puissance du chauffage dépasse <tspan font-weight="bold" stroke="none">8 kVA</tspan></text>
<text x="66.2" y="1169.5" font-size="9.6" fill="#111" stroke="#111" stroke-width="0.32">(3)</text>
<text x="85.8" y="1165.5" font-size="9.6" fill="#111" stroke="#111" stroke-width="0.32" textLength="278.5">Les circuits spécialisés "plaque de cuisson" et "lave-linge"</text>
<text x="85.8" y="1175.5" font-size="9.6" fill="#111" stroke="#111" stroke-width="0.32" textLength="215.9">doivent être protégés par un ID'clic de type A.</text>
</svg>
</body></html>
